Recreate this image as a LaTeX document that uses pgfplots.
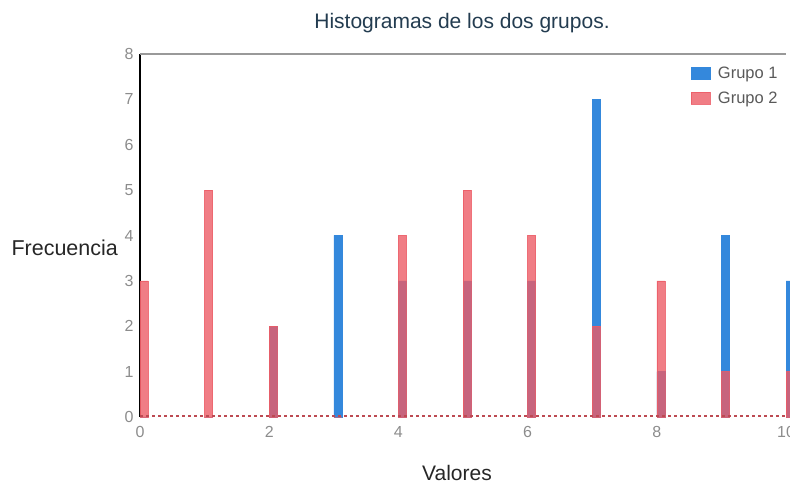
\documentclass[border=0pt]{standalone}
\usepackage{pgfplots}
\pgfplotsset{compat=1.18}
\usepackage{fontspec}
\setmainfont{Liberation Sans}
\definecolor{gblue}{RGB}{52,136,220}
\definecolor{gred}{RGB}{236,92,102}
\definecolor{titlec}{RGB}{35,60,80}
\definecolor{tickc}{RGB}{140,140,140}
\begin{document}
\begin{tikzpicture}[x=1pt,y=1pt]
\useasboundingbox (0,0) rectangle (790,484);
\begin{axis}[
  at={(140pt,67pt)}, anchor=south west,
  scale only axis, width=646pt, height=363pt,
  xmin=0, xmax=10, ymin=0, ymax=8,
  xtick={0,2,4,6,8,10}, ytick={0,1,...,8},
  tick style={draw=none},
  ticklabel style={font=\fontsize{16}{16}\selectfont, text=tickc},
  xticklabel style={yshift=-2pt},
  yticklabel style={xshift=-3pt},
  /pgf/number format/assume math mode=true,
  axis x line*=bottom, axis y line*=left,
  x axis line style={draw=none},
  y axis line style={draw=black, line width=1.2pt},
  clip=false,
  ybar, bar width=8pt,
  legend style={draw=none, fill=none, at={(0.995,0.975)}, anchor=north east, font=\fontsize{16.5}{17}\selectfont, text=black!65, row sep=8pt},
  legend cell align=left,
  legend image code/.code={\fill[#1] (0pt,-5pt) rectangle (19pt,7pt); \path[draw=none,fill=none] (0pt,0pt) -- (25pt,0pt);},
]
\draw[gray!80, line width=1.2pt] (axis cs:0,8) -- (axis cs:10,8);
\addplot[fill=gblue, draw=gblue, bar shift=4pt] coordinates {
(0,0)(1,0)(2,2)(3,4)(4,3)(5,3)(6,3)(7,7)(8,1)(9,4)(10,3)};
\addlegendentry{Grupo 1}
\addplot[fill=gred, draw=gred, fill opacity=0.8, draw opacity=0.85, bar shift=4pt] coordinates {
(0,3)(1,5)(2,2)(3,0)(4,4)(5,5)(6,4)(7,2)(8,3)(9,1)(10,1)};
\addlegendentry{Grupo 2}
\addplot[sharp plot, gred!80!black, dashed, line width=1.5pt, forget plot] coordinates {(0,0.02)(10,0.02)};
\end{axis}
\node[font=\fontsize{21}{21}\selectfont, text=titlec] at (462,461) {Histogramas de los dos grupos.};
\node[font=\fontsize{21.5}{21.5}\selectfont, text=black!85, anchor=west] at (8,236) {Frecuencia};
\node[font=\fontsize{21}{21}\selectfont, text=black!85] at (457,11) {Valores};
\end{tikzpicture}
\end{document}
